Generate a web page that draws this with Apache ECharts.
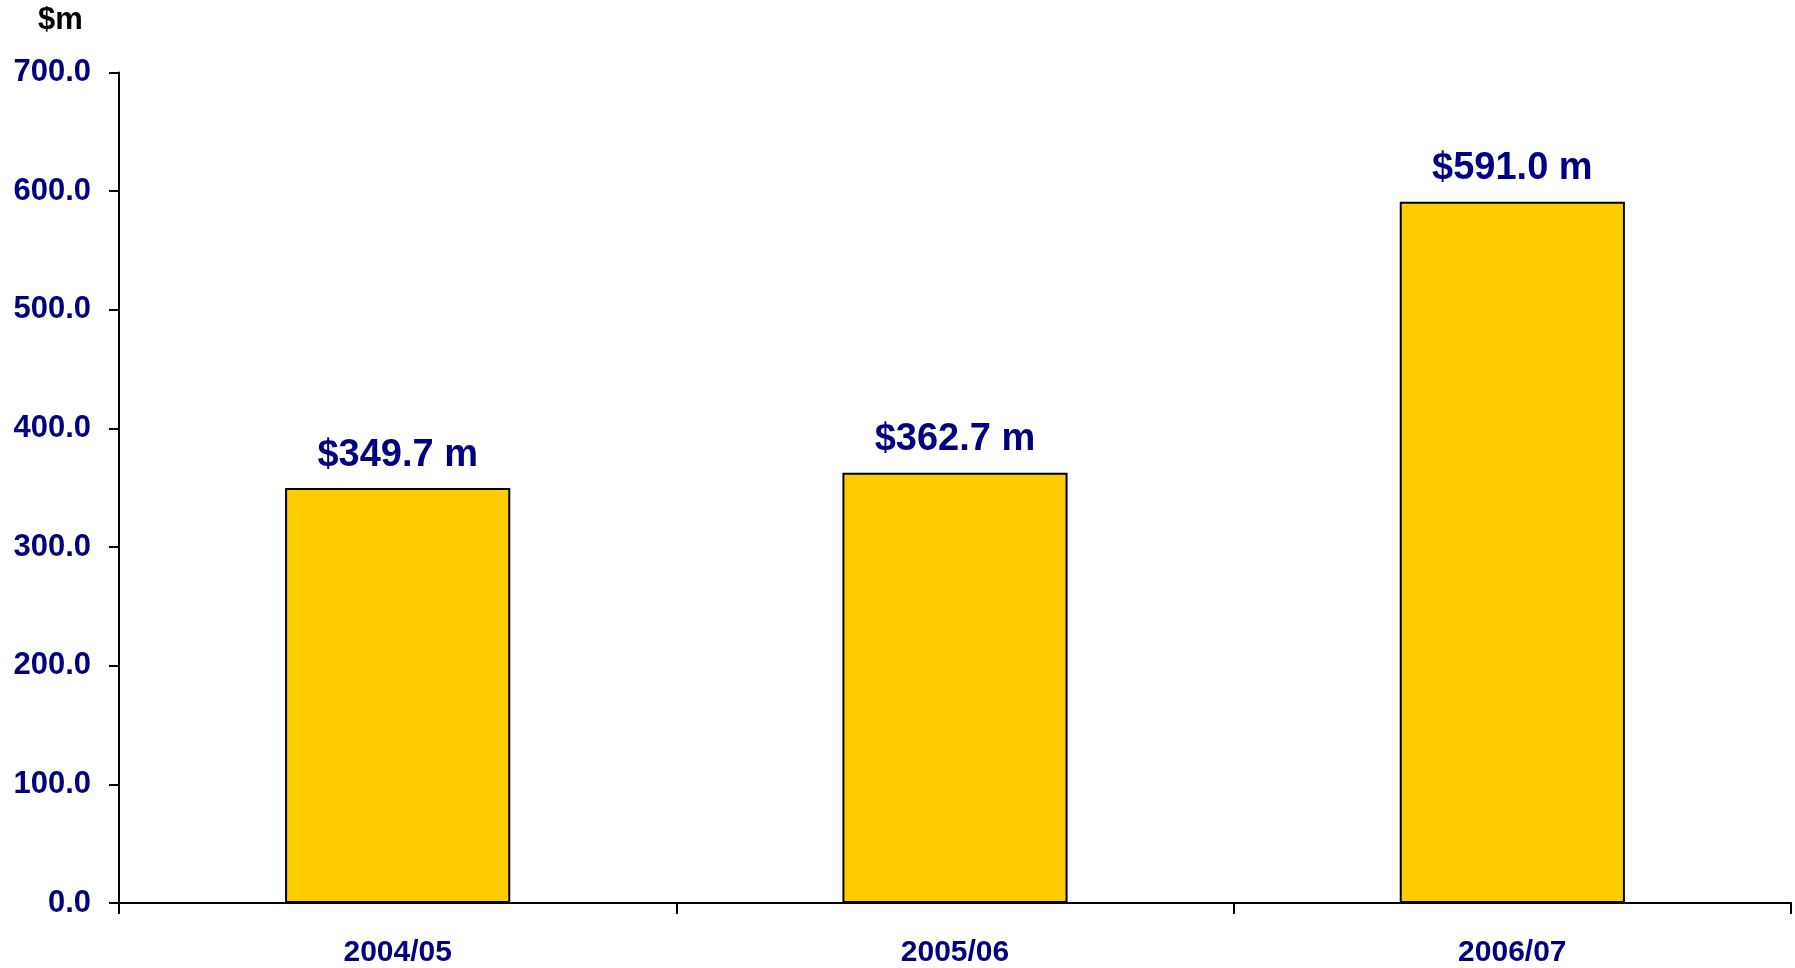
<!DOCTYPE html>
<html>
<head>
<meta charset="utf-8">
<script src="https://cdn.jsdelivr.net/npm/echarts@6/dist/echarts.min.js"></script>
<style>html,body{margin:0;padding:0;background:#fff}#c{width:1795px;height:968px}</style>
</head>
<body>
<div id="c"></div>
<script>
const categories = ['2004/05', '2005/06', '2006/07'];
const values = [349.7, 362.7, 591.0];
const yUnit = '$m';

const chart = echarts.init(document.getElementById('c'), null, {renderer: 'canvas'});
const font = 'Liberation Sans, Arial, sans-serif';
chart.setOption({
  animation: false,
  backgroundColor: '#ffffff',
  grid: {left: 119, top: 72.5, right: 4, bottom: 64, containLabel: false},
  graphic: [{
    type: 'text', left: 38, top: 5,
    style: {text: yUnit, font: 'bold 31px ' + font, fill: '#000000'}
  }],
  xAxis: {
    type: 'category', data: categories, boundaryGap: true,
    axisLine: {lineStyle: {color: '#000', width: 2}},
    axisTick: {show: true, alignWithLabel: false, length: 11, lineStyle: {color: '#000', width: 2}},
    axisLabel: {color: '#000080', fontWeight: 'bold', fontSize: 30, fontFamily: font, margin: 35}
  },
  yAxis: {
    type: 'value', min: 0, max: 700, interval: 100,
    splitLine: {show: false},
    axisLine: {show: true, lineStyle: {color: '#000', width: 2}},
    axisTick: {show: true, length: 10, lineStyle: {color: '#000', width: 2}},
    axisLabel: {color: '#000080', fontWeight: 'bold', fontSize: 31, fontFamily: font, margin: 28,
      formatter: v => v.toFixed(1)}
  },
  series: [{
    type: 'bar', data: values, barWidth: '40.4%',
    itemStyle: {color: '#FFCC00', borderColor: '#000', borderWidth: 2},
    label: {show: true, position: 'top', distance: 14, color: '#000080', fontWeight: 'bold',
      fontSize: 38, fontFamily: font, formatter: p => '$' + p.value.toFixed(1) + ' m'}
  }]
});
</script>
</body>
</html>
